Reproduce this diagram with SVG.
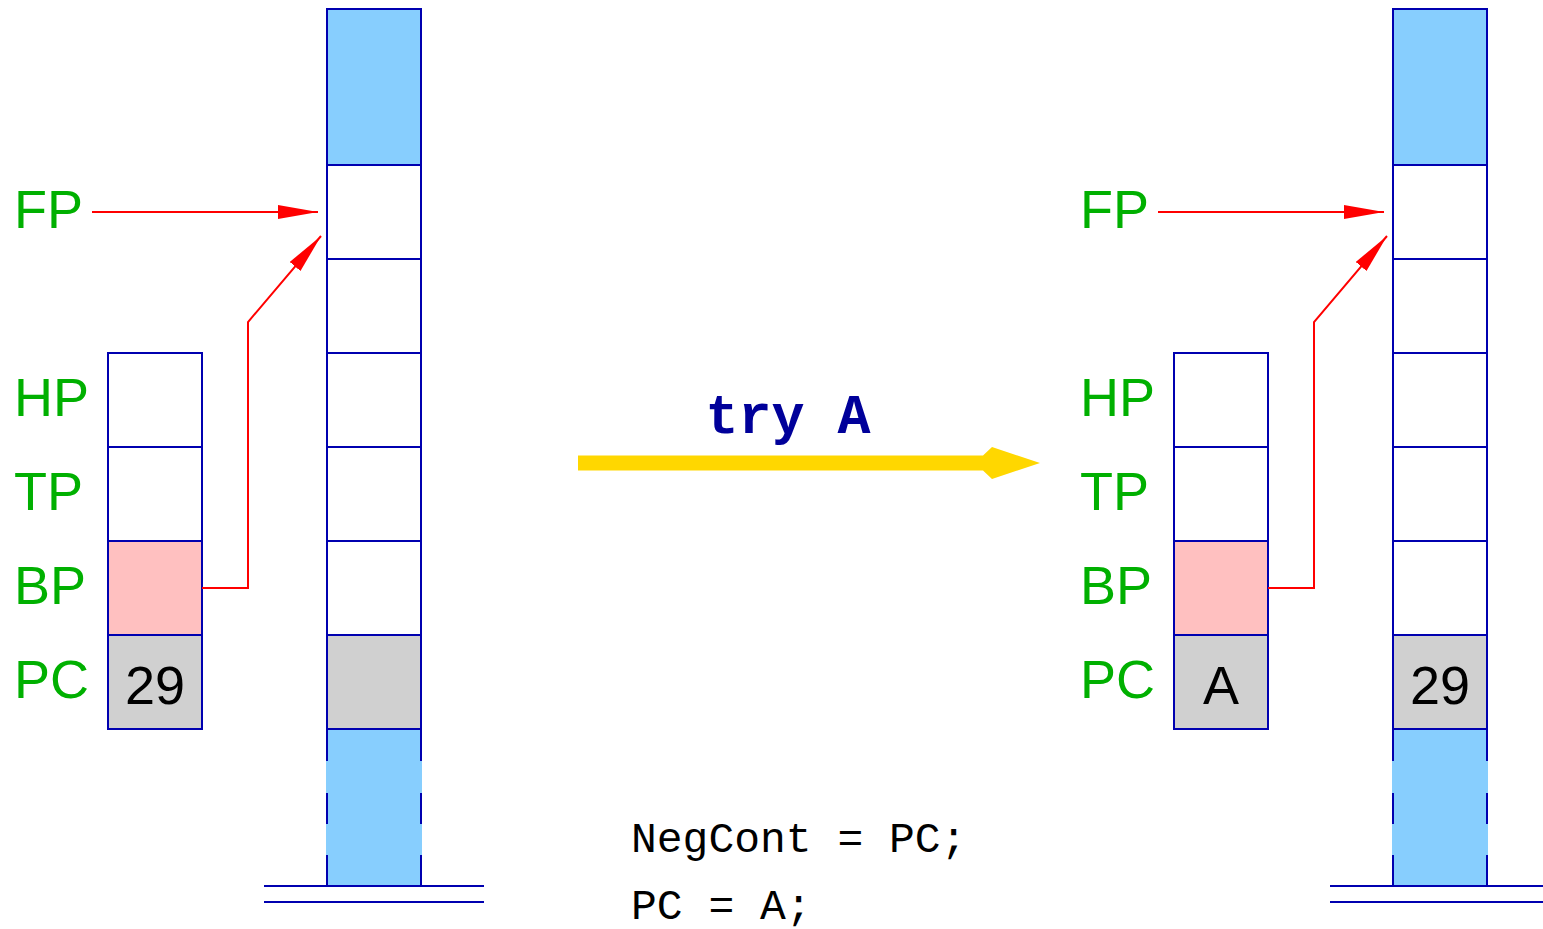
<svg xmlns="http://www.w3.org/2000/svg" width="1543" height="929" viewBox="0 0 1543 929">
<style>
.lbl{font-family:"Liberation Sans",Arial,sans-serif;font-size:54px;fill:#00b000}
.val{font-family:"Liberation Sans",Arial,sans-serif;font-size:54px;fill:#000;text-anchor:middle}
.cell{stroke:#0000b0;stroke-width:2;fill:#fff}
.blue{fill:#87cefe}
.pink{fill:#ffc0c0}
.gray{fill:#d0d0d0}
.bl{stroke:#0000b0;stroke-width:2;fill:none}
.red{stroke:#ff0000;stroke-width:2;fill:none}
.code{font-family:"Liberation Mono","DejaVu Sans Mono",monospace;font-size:43px;fill:#000}
</style>
<defs>
<marker id="ah" markerUnits="userSpaceOnUse" markerWidth="40" markerHeight="14" refX="40" refY="7" orient="auto">
<path d="M0,0 L40,7 L0,14 Z" fill="#ff0000"/>
</marker>
<g id="stack">
<rect class="blue" x="326" y="9" width="96" height="156"/>
<rect class="blue" x="326" y="729" width="96" height="157"/>
<rect class="gray" x="327" y="635" width="94" height="94"/>
<rect x="327" y="165" width="94" height="470" fill="#fff"/>
<path class="bl" d="M327,761 V9 H421 V761 M327,793 V824 M327,855 V886 M421,793 V824 M421,855 V886 M327,165 H421 M327,259 H421 M327,353 H421 M327,447 H421 M327,541 H421 M327,635 H421 M327,729 H421"/>
<path class="bl" d="M264,886 H484 M264,902 H484"/>
</g>
<g id="regs">
<rect class="cell" x="108" y="353" width="94" height="94"/>
<rect class="cell" x="108" y="447" width="94" height="94"/>
<rect class="cell pink" x="108" y="541" width="94" height="94"/>
<rect class="cell gray" x="108" y="635" width="94" height="94"/>
<text class="lbl" x="14" y="228">FP</text>
<text class="lbl" x="14" y="416">HP</text>
<text class="lbl" x="14" y="510">TP</text>
<text class="lbl" x="14" y="604">BP</text>
<text class="lbl" x="14" y="698">PC</text>
</g>
</defs>
<g id="left-stack"><use href="#stack"/></g>
<g id="left-registers"><use href="#regs"/><text class="val" x="155" y="704">29</text></g>
<g id="right-stack"><use href="#stack" transform="translate(1066,0)"/><text class="val" x="1440" y="704">29</text></g>
<g id="right-registers"><use href="#regs" transform="translate(1066,0)"/><text class="val" x="1221" y="704">A</text></g>
<g id="connectors">
<path class="red" d="M92,212 H318" marker-end="url(#ah)"/>
<path class="red" d="M202,588 H248 V322 L321,236" marker-end="url(#ah)"/>
<path class="red" d="M1158,212 H1384" marker-end="url(#ah)"/>
<path class="red" d="M1268,588 H1314 V322 L1387,236" marker-end="url(#ah)"/>
<polygon points="578,455.5 983,455.5 992,447 1040,463 992,479 983,470.5 578,470.5" fill="#ffd700"/>
</g>
<g id="label">
<text x="788" y="433" text-anchor="middle" font-family="'Liberation Mono','Courier New',monospace" font-weight="bold" font-size="55" fill="#00009a">try A</text>
</g>
<g id="code">
<text class="code" x="631" y="852">NegCont = PC;</text>
<text class="code" x="631" y="919">PC = A;</text>
</g>
</svg>
